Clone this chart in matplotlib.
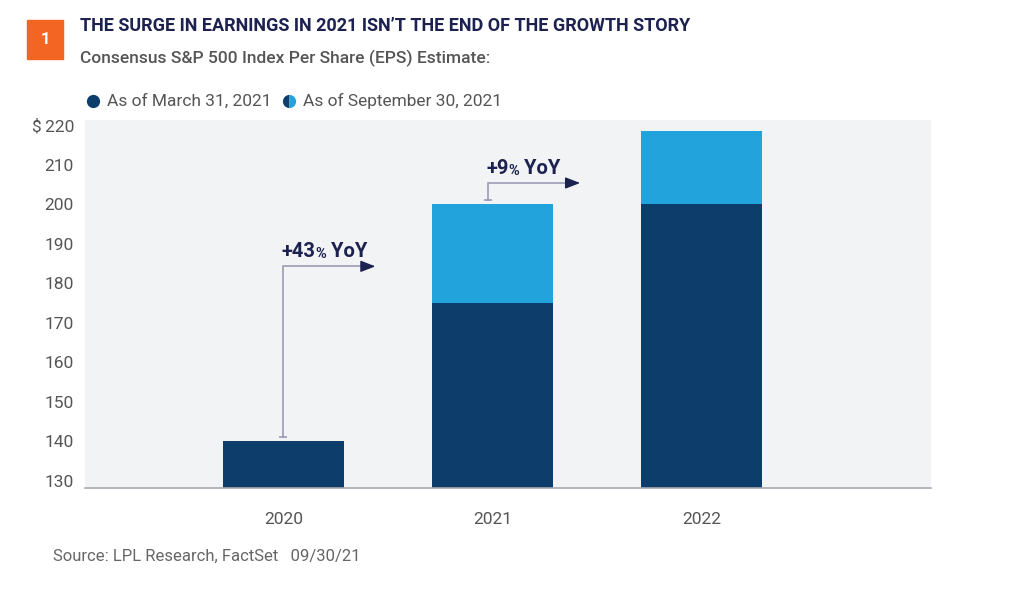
import matplotlib.pyplot as plt
from matplotlib.patches import Rectangle
from matplotlib.lines import Line2D

# data
years = ['2020', '2021', '2022']
eps_march = [140, 175, 200]
eps_sept = [140, 200, 218.5]
series_names = ['As of March 31, 2021', 'As of September 30, 2021']
yoy_labels = ['+43', '+9']
y_ticks = [130, 140, 150, 160, 170, 180, 190, 200, 210, 220]

navy = '#0c3d6b'
light_blue = '#23a3dc'
title_navy = '#1c2150'
gray_txt = '#555555'

plt.rcParams['font.family'] = ['Roboto', 'DejaVu Sans']

fig = plt.figure(figsize=(10.13, 5.92), dpi=100)
ax = fig.add_axes([0.0839, 0.1757, 0.8352, 0.6213])
ax.set_facecolor('#f2f3f5')

x = list(range(len(years)))
width = 0.58
# september estimate behind, march estimate in front
ax.bar(x, eps_sept, width=width, color=light_blue, zorder=2)
ax.bar(x, eps_march, width=width, color=navy, zorder=3)

ax.set_xlim(-0.95, 3.10)
ax.set_ylim(128.2, 221.3)
ax.set_xticks(x)
ax.set_xticklabels(years, fontsize=12.5, color=gray_txt)
ax.set_yticks(y_ticks)
ax.set_yticklabels(['$\u2009' + str(t) if t == y_ticks[-1] else str(t) for t in y_ticks],
                   fontsize=12.5, color=gray_txt)
ax.tick_params(axis='both', length=0)
ax.tick_params(axis='x', pad=17)
ax.tick_params(axis='y', pad=8)
for side in ['top', 'right', 'left']:
    ax.spines[side].set_visible(False)
ax.spines['bottom'].set_color('#a8a8b0')
ax.spines['bottom'].set_linewidth(1.2)
ax.spines['bottom'].set_zorder(4)

# YoY growth arrows
starts = [eps_march[0], eps_sept[1]]
levels = [184.3, 205.4]
arrow_len = 0.44
line_gray = '#9494b0'
for i, (lab, y0, lvl) in enumerate(zip(yoy_labels, starts, levels)):
    xi = x[i] + (0.0 if i == 0 else -0.02)
    ax.plot([xi, xi, xi + arrow_len - 0.05], [y0 + 1.2, lvl, lvl],
            color=line_gray, lw=1.1, zorder=5, solid_joinstyle='miter')
    ax.plot([xi], [y0 + 1.2], marker='_', ms=6, mew=1.1, color=line_gray, zorder=5)
    ax.annotate('', xy=(xi + arrow_len, lvl), xytext=(xi + arrow_len - 0.06, lvl),
                arrowprops=dict(arrowstyle='-|>,head_length=0.9,head_width=0.35',
                                color=title_navy, lw=1.0, shrinkA=0, shrinkB=0),
                zorder=6)
    t1 = ax.text(xi - 0.01, lvl + 1.3, lab, fontsize=14.5, fontweight='bold',
                 color=title_navy, va='bottom', ha='left', zorder=6)
    t2 = ax.annotate('%', xy=(1, 0), xycoords=t1, fontsize=10.5, fontweight='bold',
                     color=title_navy, va='bottom', ha='left')
    ax.annotate(' YoY', xy=(1, 0), xycoords=t2, fontsize=14.5, fontweight='bold',
                color=title_navy, va='bottom', ha='left')

# header
fig.add_artist(Rectangle((27 / 1013, 1 - 59 / 592), 36 / 1013, 39 / 592,
                         transform=fig.transFigure, color='#f26522'))
fig.text(45 / 1013, 1 - 39.5 / 592, '1', color='white', fontsize=12,
         fontweight='bold', ha='center', va='center')
fig.text(80 / 1013, 1 - 26 / 592,
         'THE SURGE IN EARNINGS IN 2021 ISN\u2019T THE END OF THE GROWTH STORY',
         fontsize=13, fontweight='bold', color=title_navy, va='center', ha='left')
fig.text(80 / 1013, 1 - 58 / 592,
         'Consensus S&P 500 Index Per Share (EPS) Estimate:',
         fontsize=12.5, fontweight='medium', color='#555555', va='center', ha='left')

# legend drawn by hand
marker_x = [93 / 1013, 289 / 1013]
leg_y = 1 - 101 / 592
for name, mx, kind in zip(series_names, marker_x, ['full', 'left']):
    fig.add_artist(Line2D([mx], [leg_y], transform=fig.transFigure, marker='o',
                          ms=9.5, ls='', markeredgewidth=0, fillstyle=kind,
                          markerfacecolor=navy, markerfacecoloralt=light_blue))
    fig.text(mx + 14 / 1013, leg_y, name, fontsize=12.5, color=gray_txt,
             va='center', ha='left')

fig.text(53 / 1013, 1 - 556 / 592, 'Source: LPL Research, FactSet   09/30/21',
         fontsize=12, color='#666666', va='center', ha='left')

fig.savefig('out.png', dpi=100)
